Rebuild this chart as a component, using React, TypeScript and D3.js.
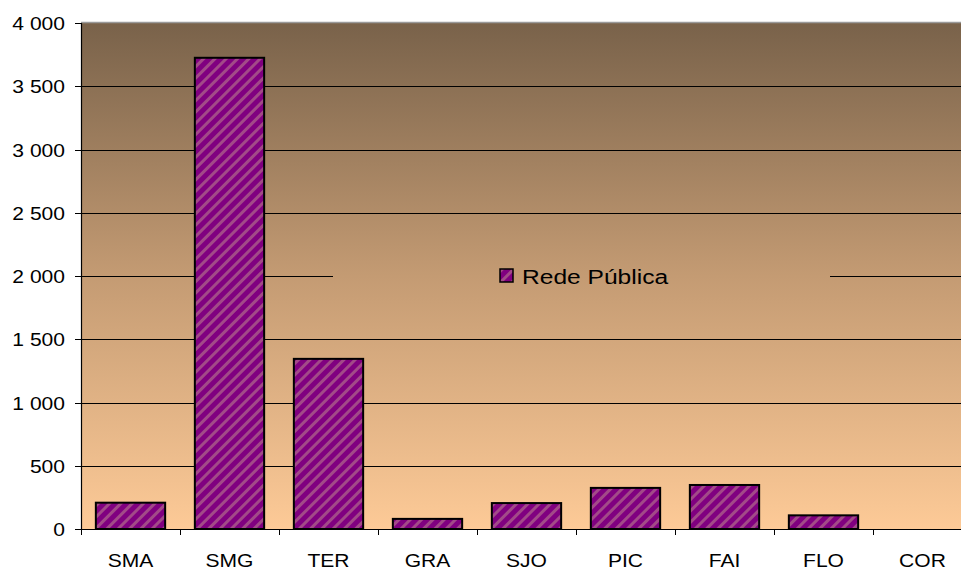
import React from "react";
import * as d3 from "d3";

const categories = ["SMA", "SMG", "TER", "GRA", "SJO", "PIC", "FAI", "FLO", "COR"];
const values = [208, 3725, 1345, 80, 205, 325, 348, 108, 0];
const yTicks = [0, 500, 1000, 1500, 2000, 2500, 3000, 3500, 4000];
const seriesName = "Rede Pública";

export default function App() {
  const W = 961, H = 570;
  const left = 81, top = 23, bottom = 529;
  const catW = 99;
  const right = left + catW * categories.length;
  const x = d3.scaleBand<string>().domain(categories).range([left, right]).paddingInner(0.3).paddingOuter(0.15);
  const y = d3.scaleLinear().domain([0, 4000]).range([bottom, top]);
  const fmt = (v: number) => d3.format(",")(v).replace(/,/g, " ");
  const font = "Arial, 'Liberation Sans', sans-serif";
  const sx = 1.17;
  const legendY = y(2000);
  return (
    <svg width={W} height={H} style={{ position: "absolute", left: 0, top: 0 }}>
      <defs>
        <linearGradient id="bg" gradientUnits="userSpaceOnUse" x1="0" y1={top} x2="0" y2={bottom}>
          <stop offset="0" stopColor="#79624a" />
          <stop offset="0.5" stopColor="#c49b73" />
          <stop offset="1" stopColor="#fdca97" />
        </linearGradient>
        <pattern id="stripes" patternUnits="userSpaceOnUse" width="8" height="8" patternTransform="rotate(45)">
          <rect width="8" height="8" fill="#800080" />
          <rect x="0" y="0" width="3" height="8" fill="#a24a88" />
        </pattern>
      </defs>
      <rect x={0} y={0} width={W} height={H} fill="#fff" />
      <rect x={left} y={top} width={right - left} height={bottom - top} fill="url(#bg)" />
      <line x1={left} x2={right} y1={top - 0.5} y2={top - 0.5} stroke="#9a9a9a" strokeWidth={1.5} />
      {yTicks.filter(t => t > 0 && t < 4000).map(t => (
        <line key={t} x1={left} x2={right} y1={Math.round(y(t)) + 0.5} y2={Math.round(y(t)) + 0.5} stroke="#000" strokeWidth={1} />
      ))}
      <rect x={333} y={legendY - 18} width={497} height={36} fill="url(#bg)" />
      <rect x={500} y={legendY - 7} width={13} height={13} fill="url(#stripes)" stroke="#000" strokeWidth={1.5} />
      <text transform={`translate(522,${legendY + 7.5}) scale(${sx},1)`} fontFamily={font} fontSize={21} fill="#000">{seriesName}</text>
      {categories.map((c, i) => {
        const v = values[i];
        if (v <= 0) return null;
        return (
          <rect key={c} x={x(c)} y={y(v)} width={x.bandwidth()} height={bottom - y(v)} fill="url(#stripes)" stroke="#000" strokeWidth={2} />
        );
      })}
      <line x1={left + 0.5} x2={left + 0.5} y1={top} y2={bottom} stroke="#000" strokeWidth={1.2} />
      <line x1={left} x2={right} y1={bottom + 0.5} y2={bottom + 0.5} stroke="#000" strokeWidth={1.2} />
      {yTicks.map(t => (
        <g key={t}>
          <line x1={left - 6} x2={left} y1={Math.round(y(t)) + 0.5} y2={Math.round(y(t)) + 0.5} stroke="#000" />
          <text transform={`translate(${left - 16},${y(t) + 7}) scale(${sx},1)`} textAnchor="end" fontFamily={font} fontSize={18} fill="#000">{fmt(t)}</text>
        </g>
      ))}
      {categories.map((c, i) => (
        <g key={c}>
          <line x1={left + i * catW + 0.5} x2={left + i * catW + 0.5} y1={bottom} y2={bottom + 6} stroke="#000" />
          <text transform={`translate(${left + i * catW + catW / 2},${bottom + 38}) scale(${sx},1)`} textAnchor="middle" fontFamily={font} fontSize={18} fill="#000">{c}</text>
        </g>
      ))}
    </svg>
  );
}
